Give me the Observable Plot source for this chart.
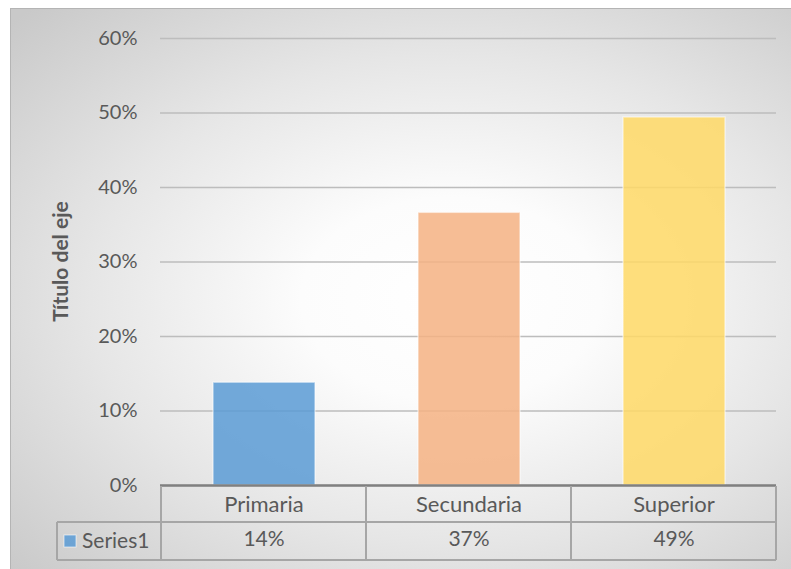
<!DOCTYPE html>
<html>
<head>
<meta charset="utf-8">
<script src="https://cdn.jsdelivr.net/npm/d3@7"></script>
<script src="https://cdn.jsdelivr.net/npm/@observablehq/plot@0.6"></script>
<style>
  html, body { margin: 0; padding: 0; background: #ffffff; }
  #wrap { position: relative; width: 791px; height: 569px; overflow: hidden; }
  #bg { position: absolute; left: 10px; top: 8px; width: 800px; height: 580px;
        border-left: 1px solid #b4b4b4; border-top: 1px solid #b4b4b4;
        background: radial-gradient(ellipse 75% 70% at 55% 50%, #ffffff 0%, #fcfcfc 25%, #e6e6e6 60%, #c9c9c9 100%); }
  #chart { position: absolute; left: 0; top: 0; }
  #chart svg { background: transparent; overflow: visible; }
</style>
</head>
<body>
<div id="wrap"><div id="bg"></div><div id="chart"></div></div>
<script>
const categories = ["Primaria", "Secundaria", "Superior"];
const values = [0.138, 0.366, 0.494];
const colors = ["#5b9bd5", "#f4b183", "#ffd966"];
const yTicks = [0, 0.1, 0.2, 0.3, 0.4, 0.5, 0.6];
const seriesName = "Series1";
const yTitle = "Título del eje";

const data = categories.map((c, i) => ({cat: c, val: values[i], color: colors[i]}));
const pct = d3.format(".0%");
const font = "Lato, 'Noto Sans', sans-serif";
const textColor = "#595959";
const lineColor = "#a6a6a6";

const plot = Plot.plot({
  width: 791,
  height: 569,
  marginLeft: 160,
  marginRight: 15,
  marginTop: 38,
  marginBottom: 84,
  style: {fontFamily: font, fontSize: "20px", color: textColor, background: "transparent"},
  x: {domain: categories, padding: 0, label: null},
  y: {domain: [0, 0.6], ticks: yTicks, label: null},
  marks: [
    Plot.gridY(yTicks, {stroke: "#bdbdbd", strokeOpacity: 1, strokeWidth: 1.3}),
    Plot.barY(data, {x: "cat", y: "val", fill: "color", fillOpacity: 0.85,
      stroke: "#ffffff", strokeOpacity: 0.5, strokeWidth: 1.5, insetLeft: 52, insetRight: 51}),
    Plot.axisY(yTicks, {tickFormat: pct, tickSize: 0, tickPadding: 23, fill: textColor, fontSize: 20, label: null}),
    Plot.axisX({tickSize: 0, tickPadding: 11, fill: textColor, fontSize: 22, label: null}),
    Plot.text(data, {x: "cat", y: 0, text: d => pct(d.val), dy: 54, fill: textColor, fontSize: 21}),
    Plot.ruleY([0], {stroke: "#808080", strokeWidth: 2.5})
  ]
});
document.getElementById("chart").appendChild(plot);

// Data table grid drawn with Plot's scales
const xs = plot.scale("x");
const ys = plot.scale("y");
const svg = d3.select(plot);
const y0 = ys.apply(0);
const row1 = y0 + 37, row2 = y0 + 75;
const xRight = xs.apply(categories[categories.length - 1]) + xs.bandwidth;
const cellLeft = 57;
const g = svg.append("g").attr("stroke", lineColor).attr("stroke-width", 2).attr("fill", "none");
g.append("line").attr("x1", cellLeft).attr("x2", xRight).attr("y1", row1).attr("y2", row1);
g.append("line").attr("x1", cellLeft).attr("x2", xRight).attr("y1", row2).attr("y2", row2);
g.append("line").attr("x1", cellLeft).attr("x2", cellLeft).attr("y1", row1).attr("y2", row2);
categories.forEach(c => {
  const xx = xs.apply(c);
  g.append("line").attr("x1", xx).attr("x2", xx).attr("y1", y0 + 1).attr("y2", row2);
});
g.append("line").attr("x1", xRight).attr("x2", xRight).attr("y1", y0 + 1).attr("y2", row2);

// legend key + series name
svg.append("rect").attr("x", 64).attr("y", (row1 + row2) / 2 - 6).attr("width", 12).attr("height", 12)
  .attr("fill", colors[0]).attr("fill-opacity", 0.85).attr("stroke", "#ffffff").attr("stroke-opacity", 0.6);
svg.append("text").attr("x", 82).attr("y", (row1 + row2) / 2).attr("dy", "0.35em")
  .attr("text-anchor", "start")
  .attr("fill", textColor).attr("font-family", font).attr("font-size", 21).text(seriesName);

// y axis title
svg.append("text")
  .attr("transform", `translate(61,${(ys.apply(0.6) + y0) / 2}) rotate(-90)`)
  .attr("text-anchor", "middle").attr("dy", "0.35em")
  .attr("fill", textColor).attr("font-family", font).attr("font-size", 21).attr("font-weight", "bold")
  .text(yTitle);
</script>
</body>
</html>
